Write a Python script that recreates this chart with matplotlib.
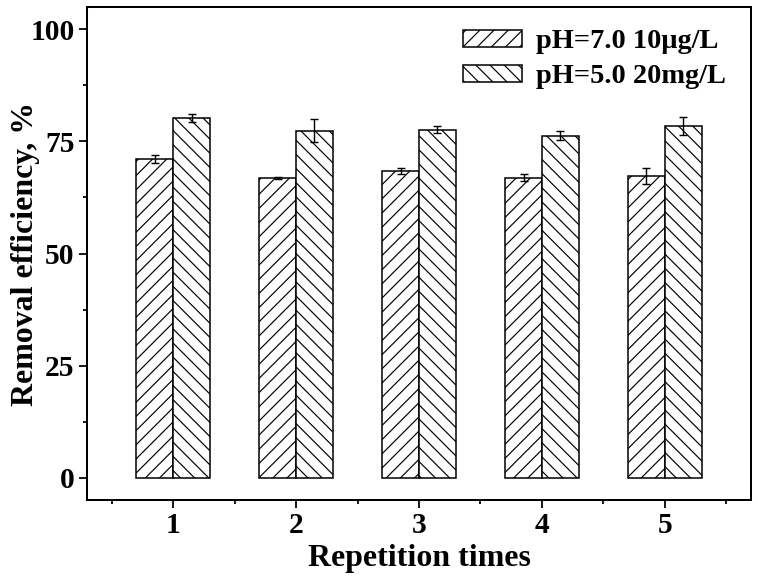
import numpy as np
import matplotlib
matplotlib.use("Agg")
import matplotlib.pyplot as plt
from matplotlib.ticker import MultipleLocator

# ---------------- Data ----------------
runs = [1, 2, 3, 4, 5]
ph7_eff = [71.1, 66.8, 68.4, 66.9, 67.2]
ph7_err = [0.9, 0.2, 0.7, 0.8, 1.8]
ph5_eff = [80.2, 77.4, 77.6, 76.3, 78.4]
ph5_err = [0.9, 2.5, 0.75, 1.0, 2.0]
labels = ["pH=7.0 10\u03bcg/L", "pH=5.0 20mg/L"]

# ---------------- Style ----------------
plt.rcParams["font.family"] = ["Liberation Serif", "DejaVu Serif"]
plt.rcParams["font.weight"] = "bold"
plt.rcParams["hatch.linewidth"] = 1.0

dpi = 85
fig = plt.figure(figsize=(758 / dpi, 579 / dpi), dpi=dpi)
ax = fig.add_axes([87 / 758, 79 / 579, 664 / 758, 493 / 579])

x = np.array(runs)
w = 0.30
err_kw = dict(ecolor="black", elinewidth=1.2, capsize=3, capthick=1.2)
ax.bar(x - w / 2, ph7_eff, w, yerr=ph7_err, color="white", edgecolor="black",
       linewidth=1.3, hatch="//", label=labels[0], error_kw=err_kw)
ax.bar(x + w / 2, ph5_eff, w, yerr=ph5_err, color="white", edgecolor="black",
       linewidth=1.3, hatch="\\\\", label=labels[1], error_kw=err_kw)

# ---------------- Axes ----------------
ax.set_xlim(0.3, 5.7)
ax.set_ylim(-5, 105)
ax.set_xticks(runs)
ax.set_yticks([0, 25, 50, 75, 100])
ax.xaxis.set_minor_locator(MultipleLocator(0.5))
ax.yaxis.set_minor_locator(MultipleLocator(12.5))
ax.tick_params(which="major", direction="out", length=6.5, width=1.5,
               labelsize=25, pad=4)
ax.tick_params(which="minor", direction="out", length=3.5, width=1.5)
for s in ax.spines.values():
    s.set_linewidth(1.7)

ax.set_xlabel("Repetition times", fontsize=27, fontweight="bold", labelpad=4)
ax.set_ylabel("Removal efficiency, %", fontsize=27, fontweight="bold")
ax.yaxis.set_label_coords(-0.071, 0.5)

ax.legend(loc="upper left", bbox_to_anchor=(0.566, 0.955), frameon=False,
          fontsize=24, handlelength=2.1, handleheight=0.55, labelspacing=0.35,
          handletextpad=0.5, borderpad=0, borderaxespad=0)

fig.savefig("out.png", dpi=dpi)
